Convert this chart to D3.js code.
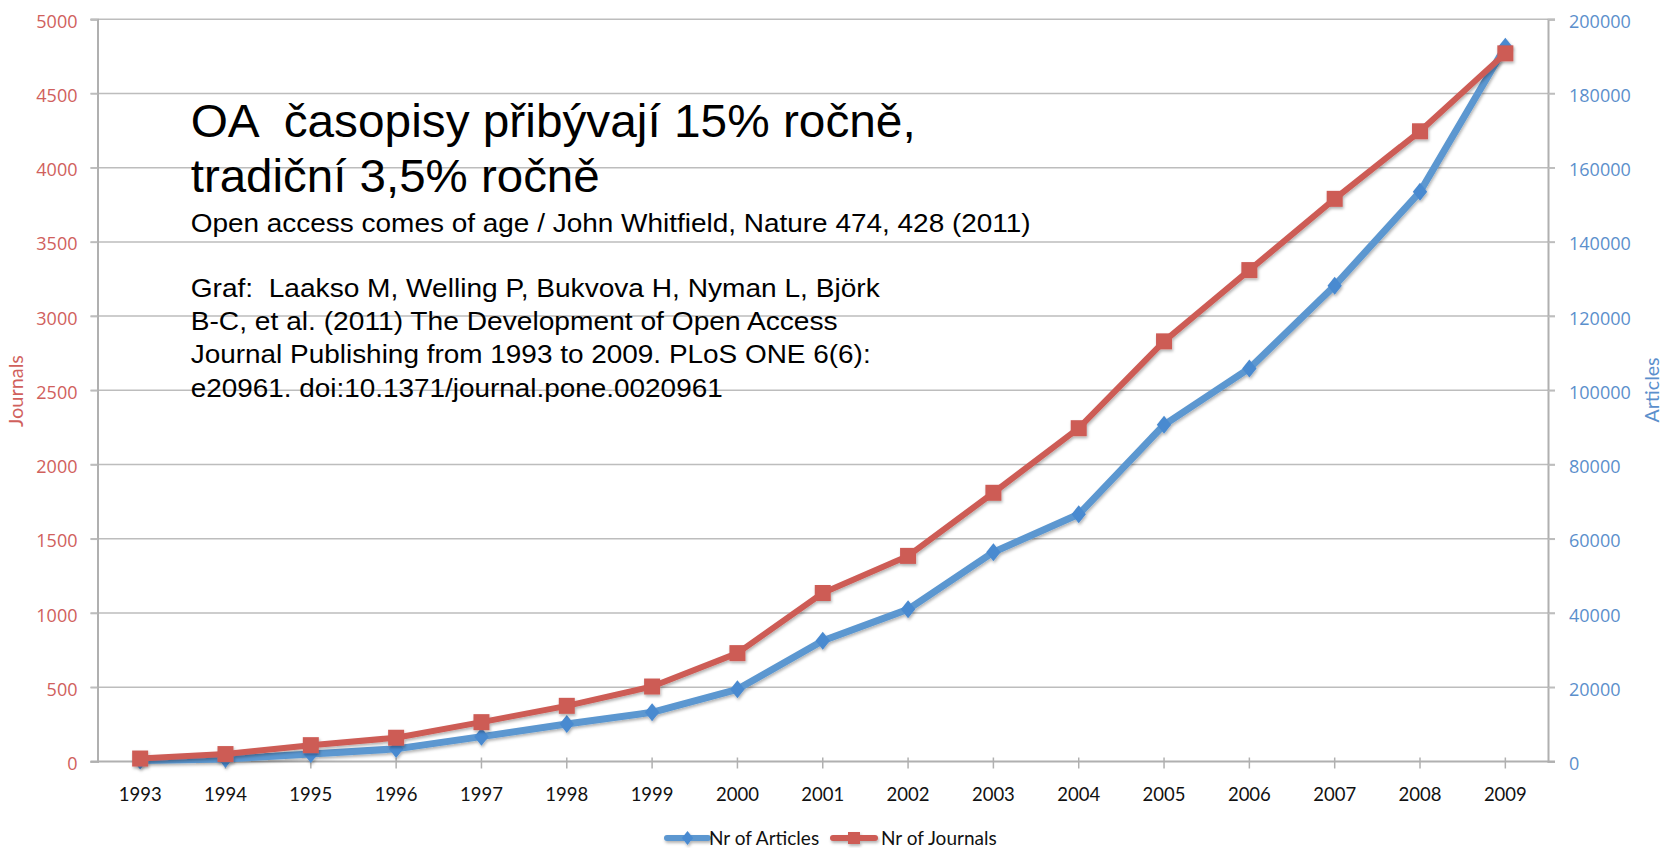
<!DOCTYPE html>
<html>
<head>
<meta charset="utf-8">
<script src="https://cdn.jsdelivr.net/npm/d3@7"></script>
<style>
  body { margin: 0; background: #fff; }
</style>
</head>
<body>
<div id="chart"></div>
<script>
// data (Laakso et al. 2011)
const years = ["1993", "1994", "1995", "1996", "1997", "1998", "1999", "2000", "2001",
    "2002", "2003", "2004", "2005", "2006", "2007", "2008", "2009"];
const journals = [20, 50, 110, 160, 265, 375, 505, 730, 1135, 1385, 1810, 2245, 2830, 3310, 3790, 4245, 4770];
const articles = [300, 700, 2000, 3400, 6700, 10100, 13250, 19450, 32550, 41000, 56400, 66600, 90700, 105900, 128200, 153500, 192600];
const journalTicks = d3.range(0, 5001, 500);
const articleTicks = d3.range(0, 200001, 20000);
const seriesNames = ["Nr of Articles", "Nr of Journals"];
const axisNames = ["Journals", "Articles"];
const titleLines = ["OA  časopisy přibývají 15% ročně,", "tradiční 3,5% ročně"];
const noteLines = [
    "Open access comes of age / John Whitfield, Nature 474, 428 (2011)",
    "Graf:  Laakso M, Welling P, Bukvova H, Nyman L, Björk",
    "B-C, et al. (2011) The Development of Open Access",
    "Journal Publishing from 1993 to 2009. PLoS ONE 6(6):",
    "e20961. doi:10.1371/journal.pone.0020961"
];

function drawChart() {
    const width = 1663;
    const height = 848;
    const left = 97.5, right = 1548, top = 19.2, bottom = 761.5;

    const red = "#cd5b55";
    const blue = "#5b97d0";
    const redText = "#d0605c";
    const blueText = "#5b8fcc";
    const grid = "#bdbdbd";

    const svg = d3.select("#chart")
        .append("svg")
        .attr("width", width)
        .attr("height", height)
        .style("font-family", "'Liberation Sans', Arial, sans-serif");

    const defs = svg.append("defs");
    defs.append("filter")
        .attr("id", "shadow")
        .attr("x", "-20%").attr("y", "-20%")
        .attr("width", "140%").attr("height", "140%")
        .append("feDropShadow")
        .attr("dx", 1).attr("dy", 2)
        .attr("stdDeviation", 1.5)
        .attr("flood-color", "#000")
        .attr("flood-opacity", 0.3);

    const x = d3.scalePoint()
        .domain(years)
        .range([left, right])
        .padding(0.5);

    const yJ = d3.scaleLinear().domain([0, 5000]).range([bottom, top]);
    const yA = d3.scaleLinear().domain([0, 200000]).range([bottom, top]);

    // gridlines
    svg.append("g")
        .selectAll("line")
        .data(journalTicks.filter(d => d > 0))
        .join("line")
        .attr("x1", left - 7)
        .attr("x2", right + 7)
        .attr("y1", d => yJ(d))
        .attr("y2", d => yJ(d))
        .attr("stroke", grid)
        .attr("stroke-width", 1.5);

    // left axis
    const axL = svg.append("g")
        .attr("transform", `translate(${left},0)`)
        .call(d3.axisLeft(yJ).tickValues(journalTicks).tickSize(7).tickPadding(13).tickFormat(d3.format("d")));
    axL.select(".domain").attr("stroke", "#b0b0b0").attr("stroke-width", 2);
    axL.selectAll(".tick line").attr("stroke", grid).attr("stroke-width", 1.5);
    axL.selectAll(".tick text")
        .attr("fill", redText)
        .attr("dy", "0.45em")
        .style("font-family", "'Open Sans', sans-serif")
        .style("font-size", "18px");

    // right axis
    const axR = svg.append("g")
        .attr("transform", `translate(${right},0)`)
        .call(d3.axisRight(yA).tickValues(articleTicks).tickSize(7).tickPadding(14).tickFormat(d3.format("d")));
    axR.select(".domain").attr("stroke", "#b0b0b0").attr("stroke-width", 2);
    axR.selectAll(".tick line").attr("stroke", grid).attr("stroke-width", 1.5);
    axR.selectAll(".tick text")
        .attr("fill", blueText)
        .attr("dy", "0.45em")
        .style("font-family", "'Open Sans', sans-serif")
        .style("font-size", "18px");

    // x axis
    const axX = svg.append("g");
    axX.append("line")
        .attr("x1", left - 7).attr("x2", right + 7)
        .attr("y1", bottom).attr("y2", bottom)
        .attr("stroke", "#b0b0b0")
        .attr("stroke-width", 2.2);
    axX.selectAll(".xtick")
        .data(years)
        .join("line")
        .attr("class", "xtick")
        .attr("x1", d => x(d)).attr("x2", d => x(d))
        .attr("y1", bottom - 4).attr("y2", bottom + 7)
        .attr("stroke", "#b0b0b0")
        .attr("stroke-width", 1.5);
    axX.selectAll(".xlab")
        .data(years)
        .join("text")
        .attr("class", "xlab")
        .attr("x", d => x(d))
        .attr("y", bottom + 39)
        .attr("text-anchor", "middle")
        .attr("fill", "#111")
        .style("font-family", "Lato, sans-serif")
        .style("font-size", "18.5px")
        .text(d => d);

    // axis titles
    svg.append("text")
        .attr("transform", `translate(23,391) rotate(-90)`)
        .attr("text-anchor", "middle")
        .attr("fill", redText)
        .attr("textLength", 72)
        .attr("lengthAdjust", "spacingAndGlyphs")
        .style("font-family", "Lato, sans-serif")
        .style("font-size", "19px")
        .text(axisNames[0]);
    svg.append("text")
        .attr("transform", `translate(1659,390) rotate(-90)`)
        .attr("text-anchor", "middle")
        .attr("fill", blueText)
        .attr("textLength", 65)
        .attr("lengthAdjust", "spacingAndGlyphs")
        .style("font-family", "Lato, sans-serif")
        .style("font-size", "19px")
        .text(axisNames[1]);

    // text block over the plot (double spaces kept)
    const titleBase = [136.7, 191.7];
    const titleLen = [725, 409];
    svg.append("g")
        .selectAll("text")
        .data(titleLines)
        .join("text")
        .attr("x", 190.7)
        .attr("y", (d, i) => titleBase[i])
        .attr("textLength", (d, i) => titleLen[i])
        .attr("lengthAdjust", "spacingAndGlyphs")
        .attr("fill", "#000")
        .style("white-space", "pre")
        .style("font-size", "47px")
        .text(d => d);

    const noteBase = [231.7, 296.7, 330, 363.3, 396.6];
    const noteLen = [840, 689, 647, 680, 532];
    svg.append("g")
        .selectAll("text")
        .data(noteLines)
        .join("text")
        .attr("x", 190.7)
        .attr("y", (d, i) => noteBase[i])
        .attr("textLength", (d, i) => noteLen[i])
        .attr("lengthAdjust", "spacingAndGlyphs")
        .attr("fill", "#000")
        .style("white-space", "pre")
        .style("font-size", "26px")
        .text(d => d);

    const diamond = s => `M0,${-s} L${s * 0.8},0 L0,${s} L${-s * 0.8},0Z`;

    // articles series (blue, right axis)
    const lineA = d3.line()
        .x((d, i) => x(years[i]))
        .y(d => yA(d));
    const gA = svg.append("g").attr("filter", "url(#shadow)");
    gA.append("path")
        .datum(articles)
        .attr("d", lineA)
        .attr("fill", "none")
        .attr("stroke", blue)
        .attr("stroke-width", 7)
        .attr("stroke-linejoin", "round");
    gA.selectAll("path.mk")
        .data(articles)
        .join("path")
        .attr("class", "mk")
        .attr("transform", (d, i) => `translate(${x(years[i])},${yA(d)})`)
        .attr("d", diamond(9))
        .attr("fill", "#4a8ad0");

    // journals series (red, left axis)
    const lineJ = d3.line()
        .x((d, i) => x(years[i]))
        .y(d => yJ(d));
    const gJ = svg.append("g").attr("filter", "url(#shadow)");
    gJ.append("path")
        .datum(journals)
        .attr("d", lineJ)
        .attr("fill", "none")
        .attr("stroke", red)
        .attr("stroke-width", 6)
        .attr("stroke-linejoin", "round");
    gJ.selectAll("rect")
        .data(journals)
        .join("rect")
        .attr("x", (d, i) => x(years[i]) - 8)
        .attr("y", d => yJ(d) - 8)
        .attr("width", 16)
        .attr("height", 16)
        .attr("fill", red);

    // legend
    const legend = svg.append("g").attr("filter", "url(#shadow)");
    const legY = 838;
    const legItems = [
        { name: seriesNames[0], color: blue, x0: 667, x1: 708, tx: 709, mark: "diamond" },
        { name: seriesNames[1], color: red, x0: 833, x1: 875, tx: 881, mark: "square" }
    ];
    legItems.forEach(it => {
        legend.append("line")
            .attr("x1", it.x0).attr("x2", it.x1)
            .attr("y1", legY).attr("y2", legY)
            .attr("stroke", it.color)
            .attr("stroke-width", 6)
            .attr("stroke-linecap", "round");
        const cx = (it.x0 + it.x1) / 2;
        if (it.mark === "diamond") {
            legend.append("path")
                .attr("transform", `translate(${cx},${legY})`)
                .attr("d", diamond(7))
                .attr("fill", "#4a8ad0");
        } else {
            legend.append("rect")
                .attr("x", cx - 6).attr("y", legY - 6)
                .attr("width", 12).attr("height", 12)
                .attr("fill", it.color);
        }
        svg.append("text")
            .attr("x", it.tx)
            .attr("y", legY + 7)
            .attr("fill", "#111")
            .style("font-family", "Lato, sans-serif")
            .style("font-size", "19px")
            .text(it.name);
    });
}

drawChart();
</script>
</body>
</html>
